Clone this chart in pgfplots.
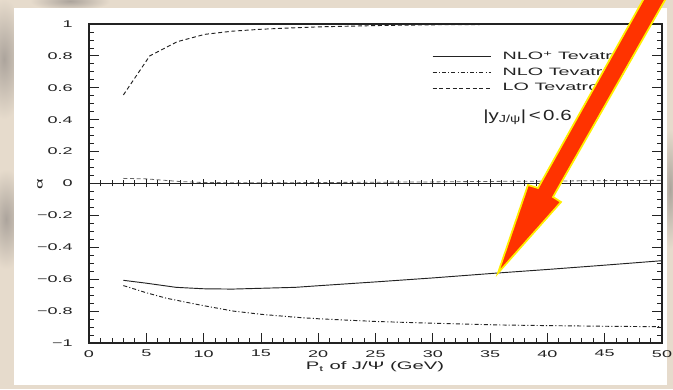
\documentclass[border=0pt]{standalone}
\usepackage{fontspec}
\setmainfont[FakeStretch=1.85]{Liberation Sans}
\newfontfamily\cutfont[FakeStretch=1.4]{Liberation Sans}
\usepackage{pgfplots}
\pgfplotsset{compat=1.18}

\definecolor{bgc}{RGB}{230,219,204}
\definecolor{blot}{RGB}{172,164,156}
\definecolor{arrowred}{RGB}{255,51,0}
\definecolor{arrowyellow}{RGB}{255,238,0}
\definecolor{ink}{RGB}{35,35,35}

% alpha(p_T) for J/psi polarisation at the Tevatron, |y| < 0.6
\pgfplotstableread{
pt     alpha
3      -0.607
5      -0.625
7.6    -0.651
10     -0.660
12.5   -0.662
15     -0.657
18     -0.651
20     -0.641
25     -0.617
30     -0.592
35.7   -0.561
40     -0.539
45     -0.512
50     -0.484
}\nloplus
\pgfplotstableread{
pt     alpha
3      -0.640
5      -0.685
6.8    -0.720
9.7    -0.762
12.6   -0.800
15     -0.820
18.1   -0.839
20     -0.848
25     -0.865
30     -0.876
35.9   -0.887
40     -0.891
45     -0.895
50     -0.898
}\nlo
\pgfplotstableread{
pt     alpha
3      0.555
5.3    0.800
7.7    0.889
10.1   0.935
12.5   0.955
15     0.967
17.5   0.975
20     0.982
25     0.990
30     0.995
35     0.997
40     0.998
45.5   0.999
}\lo
\pgfplotstableread{
pt     alpha
3      0.032
5      0.029
8      0.012
10     0.006
15     0.004
20     0.006
25     0.008
30     0.010
35     0.013
40     0.015
45     0.018
50     0.020
}\lotwo

\pgfplotsset{
  frame/.style={
    at={(66.75pt,34.5pt)}, anchor=south west,
    scale only axis, width=429.75pt, height=239.25pt,
    xmin=0, xmax=50, ymin=-1, ymax=1,
  }
}

\begin{document}
\begin{tikzpicture}
\useasboundingbox (0,0) rectangle (504.75pt,291.75pt);
\clip (0,0) rectangle (504.75pt,291.75pt);
\begin{scope}[x=0.75pt,y=0.75pt]
% marbled backdrop
\fill[bgc] (0,0) rectangle (673,389);
\shade[inner color=blot, outer color=bgc] (4,330) ellipse [x radius=22, y radius=60];
\shade[inner color=blot, outer color=bgc] (6,170) ellipse [x radius=20, y radius=50];
\shade[inner color=blot, outer color=bgc] (70,388) ellipse [x radius=40, y radius=10];
\shade[inner color=blot, outer color=bgc] (670,200) ellipse [x radius=10, y radius=60];
% page
\fill[white] (14,4) rectangle (667,381);
\end{scope}

\begin{axis}[
  frame,
  xtick={0,5,...,50}, minor x tick num=4,
  ytick={-1,-0.8,-0.6,-0.4,-0.2,0,0.2,0.4,0.6,0.8,1},
  yticklabels={−1,−0.8,−0.6,−0.4,−0.2,0,0.2,0.4,0.6,0.8,1},
  minor y tick num=3,
  tick align=inside, xtick pos=lower, ytick pos=both,
  major tick length=7.5pt, minor tick length=4pt,
  axis line style={ink, line width=0.9pt},
  every tick/.style={ink, line width=0.6pt},
  /pgf/number format/assume math mode=true,
  tick label style={font=\fontsize{7.3}{8}\selectfont, text=ink, inner sep=0pt},
  yticklabel style={xshift=-12pt},
  xticklabel style={yshift=-5.25pt},
  legend style={draw=none, fill=none, at={(axis cs:29.93,0.842)}, anchor=north west,
    font=\fontsize{8}{9}\selectfont, row sep=1.5pt, inner sep=0pt,
    nodes={inner sep=1.5pt, text=ink}},
  legend image code/.code={%
    \draw[#1] (0pt,0pt) -- (43.5pt,0pt);
    \path[draw=none] (0pt,0pt) -- (51pt,0pt);},
  legend cell align=left,
]
\addplot[ink, line width=0.7pt] table[x=pt, y=alpha] {\nloplus};
\addlegendentry{NLO\textsuperscript{+} Tevatron}
\addplot[ink, line width=0.7pt, dash pattern=on 3pt off 1.6pt on 0.8pt off 1.6pt] table[x=pt, y=alpha] {\nlo};
\addlegendentry{NLO Tevatron}
\addplot[ink, line width=0.7pt, dash pattern=on 3pt off 2pt] table[x=pt, y=alpha] {\lo};
\addlegendentry{LO Tevatron}
\addplot[ink!70, line width=0.6pt, dash pattern=on 3pt off 2pt, forget plot] table[x=pt, y=alpha] {\lotwo};
\end{axis}

% zero line with its own ticks
\begin{axis}[
  frame,
  axis x line=middle, axis y line=none,
  axis line style={-, ink, line width=0.7pt},
  xtick={0,5,...,50}, minor x tick num=4, xticklabels={},
  tick align=center, major tick length=6pt, minor tick length=4.5pt,
  every tick/.style={ink, line width=0.6pt},
]
\end{axis}

\begin{scope}[x=0.75pt,y=0.75pt]
\node[font=\cutfont\fontsize{11}{12}\selectfont, text=ink, anchor=west, inner sep=0pt] at (483,272)
  {|y\textsubscript{J/ψ}|\,<\,0.6};
\node[font=\fontsize{8.2}{9}\selectfont, text=ink, inner sep=0pt] at (375,22) {P\textsubscript{t} of J/Ψ (GeV)};
\node[font=\fontsize{7.5}{8}\selectfont, text=ink, rotate=90] at (40,205) {α};
% pointer
\filldraw[fill=arrowred, draw=arrowyellow, line width=1.3pt, line join=miter]
  (498,116) -- (528,204) -- (538,201) -- (654.2,409) -- (676.4,409)
  -- (553,192) -- (561,187) -- cycle;
\end{scope}
\end{tikzpicture}
\end{document}
